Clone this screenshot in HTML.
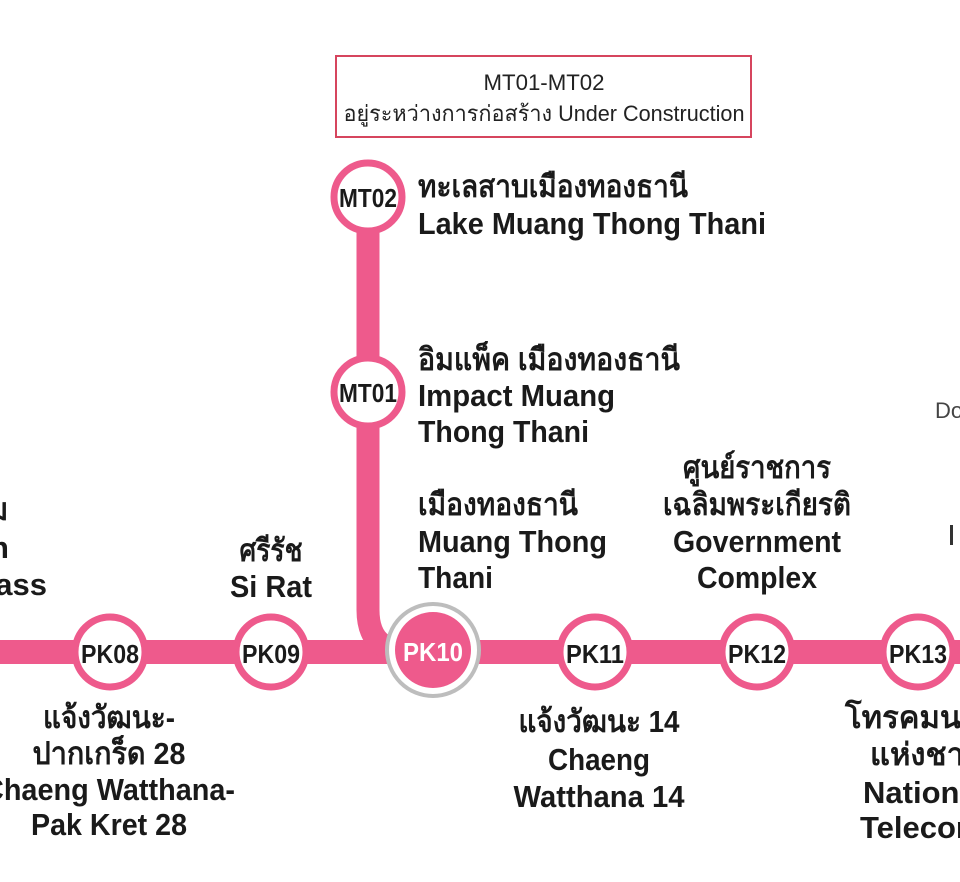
<!DOCTYPE html>
<html><head><meta charset="utf-8"><style>
html,body{margin:0;padding:0;background:#fff;width:960px;height:882px;overflow:hidden}
svg{display:block}
.b{font-family:"Liberation Sans Narrow","Liberation Sans",sans-serif;font-weight:bold;fill:#1a1a1a;font-size:31px}
.s{font-family:"Liberation Sans Narrow","Liberation Sans",sans-serif;font-weight:bold;fill:#1a1a1a;font-size:26px}
.n{font-family:"Liberation Sans Narrow","Liberation Sans",sans-serif;fill:#222;font-size:22px}
</style></head><body>
<svg width="960" height="882" viewBox="0 0 960 882" xmlns="http://www.w3.org/2000/svg">
<rect x="336" y="56" width="415" height="81" fill="#fff" stroke="#d6455e" stroke-width="2"/>
<text class="n" x="544" y="90" text-anchor="middle" textLength="121" lengthAdjust="spacingAndGlyphs">MT01-MT02</text>
<text class="n" x="544" y="121" text-anchor="middle" textLength="401" lengthAdjust="spacingAndGlyphs">อยู่ระหว่างการก่อสร้าง Under Construction</text>
<text class="n" x="935" y="418" style="fill:#444">Do</text>
<rect x="950" y="525" width="3" height="20" fill="#333"/>

<rect x="0" y="640" width="960" height="24" fill="#ee5a8c"/>
<path d="M368 197 V610 Q368 652 410 652" fill="none" stroke="#ee5a8c" stroke-width="23"/>

<g fill="#fff" stroke="#ee5a8c" stroke-width="7">
<circle cx="368" cy="197" r="34"/>
<circle cx="368" cy="392" r="34"/>
<circle cx="110" cy="652" r="35"/>
<circle cx="271" cy="652" r="35"/>
<circle cx="595" cy="652" r="35"/>
<circle cx="757" cy="652" r="35"/>
<circle cx="918" cy="652" r="35"/>
</g>
<circle cx="433" cy="650" r="46" fill="#fff" stroke="#bdbdbd" stroke-width="4"/>
<circle cx="433" cy="650" r="38" fill="#ee5a8c"/>

<text class="s" x="368" y="207" text-anchor="middle" textLength="58" lengthAdjust="spacingAndGlyphs">MT02</text>
<text class="s" x="368" y="402" text-anchor="middle" textLength="58" lengthAdjust="spacingAndGlyphs">MT01</text>
<text class="s" x="110" y="663" text-anchor="middle" textLength="58" lengthAdjust="spacingAndGlyphs">PK08</text>
<text class="s" x="271" y="663" text-anchor="middle" textLength="58" lengthAdjust="spacingAndGlyphs">PK09</text>
<text class="s" x="433" y="661" text-anchor="middle" textLength="60" lengthAdjust="spacingAndGlyphs" style="fill:#fff">PK10</text>
<text class="s" x="595" y="663" text-anchor="middle" textLength="58" lengthAdjust="spacingAndGlyphs">PK11</text>
<text class="s" x="757" y="663" text-anchor="middle" textLength="58" lengthAdjust="spacingAndGlyphs">PK12</text>
<text class="s" x="918" y="663" text-anchor="middle" textLength="58" lengthAdjust="spacingAndGlyphs">PK13</text>

<text class="b" x="418" y="197" textLength="270" lengthAdjust="spacingAndGlyphs">ทะเลสาบเมืองทองธานี</text>
<text class="b" x="418" y="234" textLength="348" lengthAdjust="spacingAndGlyphs">Lake Muang Thong Thani</text>
<text class="b" x="418" y="370" textLength="262" lengthAdjust="spacingAndGlyphs">อิมแพ็ค เมืองทองธานี</text>
<text class="b" x="418" y="406" textLength="197" lengthAdjust="spacingAndGlyphs">Impact Muang</text>
<text class="b" x="418" y="442" textLength="171" lengthAdjust="spacingAndGlyphs">Thong Thani</text>
<text class="b" x="418" y="515" textLength="160" lengthAdjust="spacingAndGlyphs">เมืองทองธานี</text>
<text class="b" x="418" y="552" textLength="189" lengthAdjust="spacingAndGlyphs">Muang Thong</text>
<text class="b" x="418" y="588" textLength="75" lengthAdjust="spacingAndGlyphs">Thani</text>

<text class="b" x="757" y="478" text-anchor="middle" textLength="148" lengthAdjust="spacingAndGlyphs">ศูนย์ราชการ</text>
<text class="b" x="757" y="515" text-anchor="middle" textLength="188" lengthAdjust="spacingAndGlyphs">เฉลิมพระเกียรติ</text>
<text class="b" x="757" y="552" text-anchor="middle" textLength="168" lengthAdjust="spacingAndGlyphs">Government</text>
<text class="b" x="757" y="588" text-anchor="middle" textLength="120" lengthAdjust="spacingAndGlyphs">Complex</text>

<text class="b" x="271" y="561" text-anchor="middle" textLength="63" lengthAdjust="spacingAndGlyphs">ศรีรัช</text>
<text class="b" x="271" y="597" text-anchor="middle" textLength="82" lengthAdjust="spacingAndGlyphs">Si Rat</text>

<text class="b" x="109" y="728" text-anchor="middle" textLength="132" lengthAdjust="spacingAndGlyphs">แจ้งวัฒนะ-</text>
<text class="b" x="109" y="764" text-anchor="middle" textLength="153" lengthAdjust="spacingAndGlyphs">ปากเกร็ด 28</text>
<text class="b" x="235" y="800" text-anchor="end" textLength="252" lengthAdjust="spacingAndGlyphs">Chaeng Watthana-</text>
<text class="b" x="109" y="835" text-anchor="middle" textLength="156" lengthAdjust="spacingAndGlyphs">Pak Kret 28</text>

<text class="b" x="599" y="732" text-anchor="middle" textLength="161" lengthAdjust="spacingAndGlyphs">แจ้งวัฒนะ 14</text>
<text class="b" x="599" y="770" text-anchor="middle" textLength="102" lengthAdjust="spacingAndGlyphs">Chaeng</text>
<text class="b" x="599" y="807" text-anchor="middle" textLength="171" lengthAdjust="spacingAndGlyphs">Watthana 14</text>

<text class="b" x="845" y="728">โทรคมนาคม</text>
<text class="b" x="870" y="765">แห่งชาติ</text>
<text class="b" x="863" y="803">National</text>
<text class="b" x="860" y="838">Telecom</text>

<text class="b" x="-12" y="520">ม</text>
<text class="b" x="-10" y="558">h</text>
<text class="b" x="47" y="595" text-anchor="end">pass</text>
</svg>
</body></html>
